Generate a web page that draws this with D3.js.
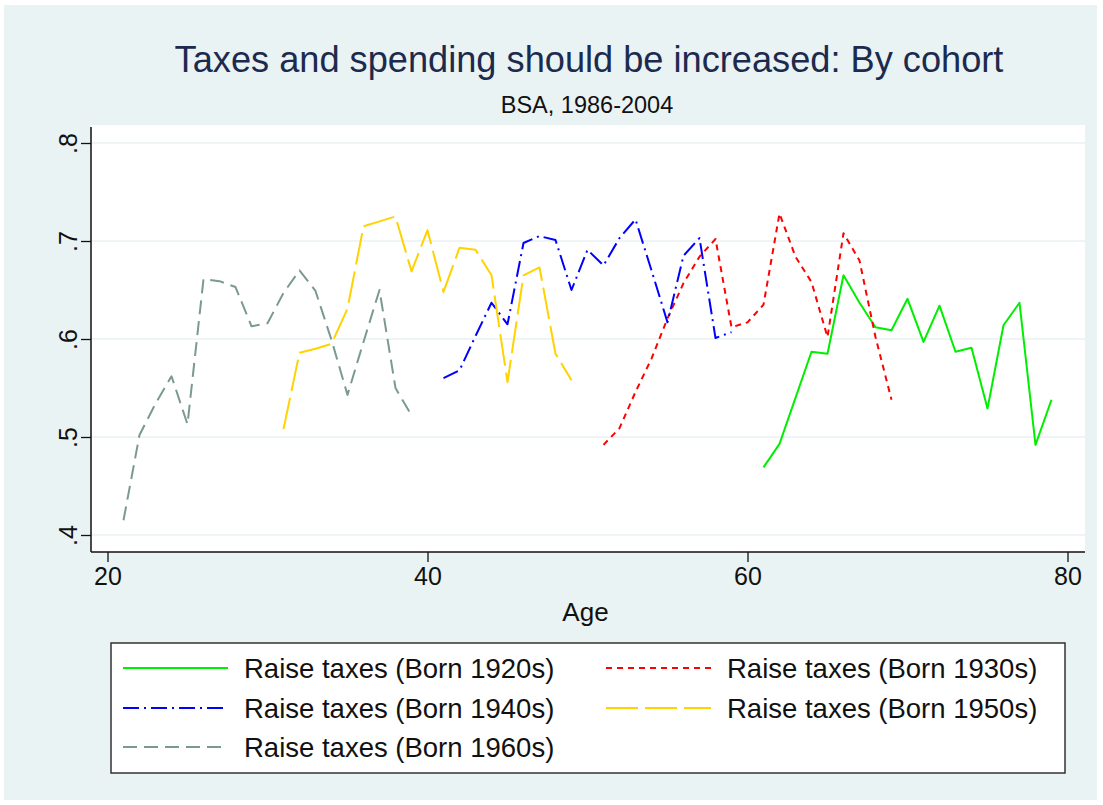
<!DOCTYPE html>
<html>
<head>
<meta charset="utf-8">
<script src="https://cdn.jsdelivr.net/npm/d3@7"></script>
<style>
  html, body { margin: 0; padding: 0; background: #ffffff; }
  svg { display: block; }
  text { font-family: "Liberation Sans", Arial, Helvetica, sans-serif; }
</style>
</head>
<body>
<svg id="chart" width="1103" height="805"></svg>
<script>
// ---------------- DATA ----------------
const titleText = "Taxes and spending should be increased: By cohort";
const subtitleText = "BSA, 1986-2004";
const xLabel = "Age";
const xTicks = [20, 40, 60, 80];
const yTicks = [0.4, 0.5, 0.6, 0.7, 0.8];
const yTickLabels = [".4", ".5", ".6", ".7", ".8"];

const ages1920 = [61,62,63,64,65,66,67,68,69,70,71,72,73,74,75,76,77,78,79];
const vals1920 = [0.469,0.493,0.540,0.587,0.585,0.665,0.637,0.612,0.609,0.641,0.597,0.634,0.587,0.591,0.529,0.614,0.637,0.492,0.538];

const ages1930 = [51,52,53,54,55,56,57,58,59,60,61,62,63,64,65,66,67,68,69];
const vals1930 = [0.492,0.509,0.546,0.580,0.621,0.657,0.684,0.702,0.612,0.617,0.635,0.728,0.684,0.658,0.602,0.708,0.680,0.602,0.538];

const ages1940 = [41,42,43,44,45,46,47,48,49,50,51,52,53,54,55,56,57,58,59];
const vals1940 = [0.560,0.568,0.603,0.637,0.615,0.698,0.705,0.701,0.650,0.691,0.675,0.703,0.722,0.670,0.617,0.685,0.703,0.601,0.607];

const ages1950 = [31,32,33,34,35,36,37,38,39,40,41,42,43,44,45,46,47,48,49];
const vals1950 = [0.508,0.586,0.590,0.595,0.631,0.715,0.720,0.725,0.669,0.711,0.648,0.693,0.691,0.665,0.556,0.665,0.673,0.585,0.558];

const ages1960 = [21,22,23,24,25,26,27,28,29,30,31,32,33,34,35,36,37,38,39];
const vals1960 = [0.415,0.502,0.534,0.562,0.513,0.661,0.659,0.653,0.613,0.616,0.647,0.670,0.649,0.599,0.543,0.597,0.650,0.550,0.522];

const seriesNames = ["Raise taxes (Born 1920s)", "Raise taxes (Born 1930s)", "Raise taxes (Born 1940s)", "Raise taxes (Born 1950s)", "Raise taxes (Born 1960s)"];

// ---------------- STYLE ----------------
const series = [
  { name: seriesNames[0], ages: ages1920, vals: vals1920, color: "#00ee00", dash: null },
  { name: seriesNames[1], ages: ages1930, vals: vals1930, color: "#ff0000", dash: "6,5" },
  { name: seriesNames[2], ages: ages1940, vals: vals1940, color: "#0000ff", dash: "16,5,2,5" },
  { name: seriesNames[3], ages: ages1950, vals: vals1950, color: "#ffd200", dash: "32,7" },
  { name: seriesNames[4], ages: ages1960, vals: vals1960, color: "#7a9a90", dash: "14,7" }
];

const svg = d3.select("#chart");

// outer background
svg.append("rect").attr("x", 4).attr("y", 5).attr("width", 1093).attr("height", 795)
  .attr("fill", "#eaf3f3");

// plot region
const plot = { left: 91, right: 1085, top: 125, bottom: 552 };
svg.append("rect").attr("x", plot.left).attr("y", plot.top)
  .attr("width", plot.right - plot.left).attr("height", plot.bottom - plot.top)
  .attr("fill", "#ffffff");

const x = d3.scaleLinear().domain([20, 80]).range([107.5, 1067.5]);
const y = d3.scaleLinear().domain([0.4, 0.8]).range([535, 143]);

// gridlines
svg.append("g").selectAll("line").data(yTicks).join("line")
  .attr("x1", plot.left).attr("x2", plot.right)
  .attr("y1", d => y(d)).attr("y2", d => y(d))
  .attr("stroke", "#eaf2f3").attr("stroke-width", 1.5);

// axes
const yAxis = d3.axisLeft(y).tickValues(yTicks).tickSize(10).tickFormat((d, i) => yTickLabels[i]);
const gy = svg.append("g").attr("transform", `translate(${plot.left},0)`).call(yAxis);
gy.select(".domain").attr("d", `M0,${plot.top + 2}V${plot.bottom}`).attr("stroke", "#111").attr("stroke-width", 1.5);
gy.selectAll(".tick line").attr("stroke", "#111").attr("stroke-width", 1.3);
gy.selectAll(".tick text")
  .attr("font-size", 25).attr("fill", "#111")
  .attr("x", null).attr("dy", null)
  .attr("text-anchor", "middle")
  .attr("transform", "translate(-23,0) rotate(-90)")
  .attr("y", 0).attr("dy", "0.35em")
  .style("font-family", "'Liberation Sans', Arial, sans-serif");

const xAxis = d3.axisBottom(x).tickValues(xTicks).tickSize(10).tickFormat(d3.format("d"));
const gx = svg.append("g").attr("transform", `translate(0,${plot.bottom})`).call(xAxis);
gx.select(".domain").attr("d", `M${plot.left},0H${plot.right}`).attr("stroke", "#111").attr("stroke-width", 1.5);
gx.selectAll(".tick line").attr("stroke", "#111").attr("stroke-width", 1.3);
gx.selectAll(".tick text").attr("font-size", 25).attr("fill", "#111")
  .attr("y", 15).attr("dy", "0.71em")
  .style("font-family", "'Liberation Sans', Arial, sans-serif");

// axis title
svg.append("text").attr("x", x(50) - 2).attr("y", 621)
  .attr("text-anchor", "middle").attr("font-size", 26).attr("fill", "#111").text(xLabel);

// titles
svg.append("text").attr("x", 589).attr("y", 72)
  .attr("text-anchor", "middle").attr("font-size", 36.2).attr("fill", "#1c2a4e").text(titleText);
svg.append("text").attr("x", 587).attr("y", 113)
  .attr("text-anchor", "middle").attr("font-size", 23.5).attr("fill", "#111").text(subtitleText);

// lines
const line = d3.line().x(d => x(d[0])).y(d => y(d[1]));
const gLines = svg.append("g");
series.forEach(s => {
  const pts = s.ages.map((a, i) => [a, s.vals[i]]);
  gLines.append("path").datum(pts)
    .attr("d", line)
    .attr("fill", "none")
    .attr("stroke", s.color)
    .attr("stroke-width", 2)
    .attr("stroke-linejoin", "round")
    .attr("stroke-dasharray", s.dash);
});

// legend
const lg = svg.append("g");
lg.append("rect").attr("x", 111).attr("y", 643).attr("width", 954).attr("height", 130)
  .attr("fill", "#ffffff").attr("stroke", "#333").attr("stroke-width", 1.5);
const legendPos = [
  { lx: 123, ty: 668 }, { lx: 606, ty: 668 },
  { lx: 123, ty: 708 }, { lx: 606, ty: 708 },
  { lx: 123, ty: 747 }
];
series.forEach((s, i) => {
  const p = legendPos[i];
  lg.append("line").attr("x1", p.lx).attr("x2", p.lx + 105)
    .attr("y1", p.ty).attr("y2", p.ty)
    .attr("stroke", s.color).attr("stroke-width", 2)
    .attr("stroke-dasharray", s.dash);
  lg.append("text").attr("x", p.lx + 121).attr("y", p.ty).attr("dy", "0.36em")
    .attr("font-size", 27.5).attr("fill", "#111").text(s.name);
});
</script>
</body>
</html>
